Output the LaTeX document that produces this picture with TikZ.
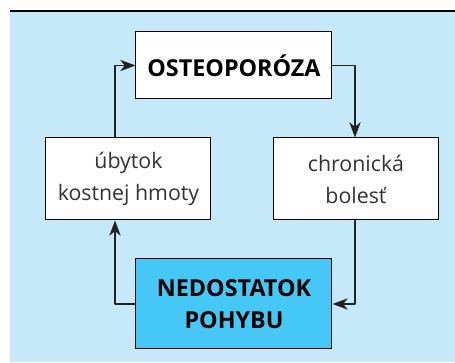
\documentclass[tikz,border=0pt]{standalone}
\usepackage{fontspec}
\setmainfont{Open Sans}
\usetikzlibrary{arrows.meta}
\definecolor{bgblue}{HTML}{C6E9F9}
\definecolor{boxcyan}{HTML}{45C8F5}
\definecolor{linegray}{HTML}{222222}
\begin{document}
\begin{tikzpicture}[x=0.75pt, y=-0.75pt, line cap=round, line join=round, font=\fontsize{16}{24}\selectfont, >={Stealth[length=11.5pt, width=8.5pt, inset=3.5pt]}]
	\tikzset{box/.style={draw=black, fill=white, align=center, inner sep=0pt, line width=0.75pt},
		wide box/.style={box, minimum width=147pt, minimum height=50.25pt, font=\fontsize{17.5}{24}\selectfont\bfseries},
		side box/.style={box, minimum width=123.75pt, minimum height=61.5pt, text=black!80}}
	\useasboundingbox (0,0) rectangle (455,363);
	\fill[bgblue] (10,12) rectangle (455,362);
	\draw[line width=1.3pt, line cap=butt] (10,11)--(455,11);
	\node[wide box] (osteo) at (234,65.5) {OSTEOPORÓZA};
	\node[side box] (ubytok) at (128.5,179) {úbytok\\kostnej hmoty};
	\node[side box] (bolest) at (356,179) {chronická\\bolesť};
	\node[wide box, fill=boxcyan, minimum height=67.5pt] (nedostatok) at (234,304) {NEDOSTATOK\\POHYBU};
	\coordinate (l) at (115,0);
	\coordinate (r) at (355,0);
	\draw[->, linegray, line width=1pt] (nedostatok.west) -| (l |- ubytok.south);
	\draw[->, linegray, line width=1pt] (l |- ubytok.north) |- (osteo.west);
	\draw[->, linegray, line width=1pt] (osteo.east) -| (r |- bolest.north);
	\draw[->, linegray, line width=1pt] (r |- bolest.south) |- (nedostatok.east);
\end{tikzpicture}
\end{document}
